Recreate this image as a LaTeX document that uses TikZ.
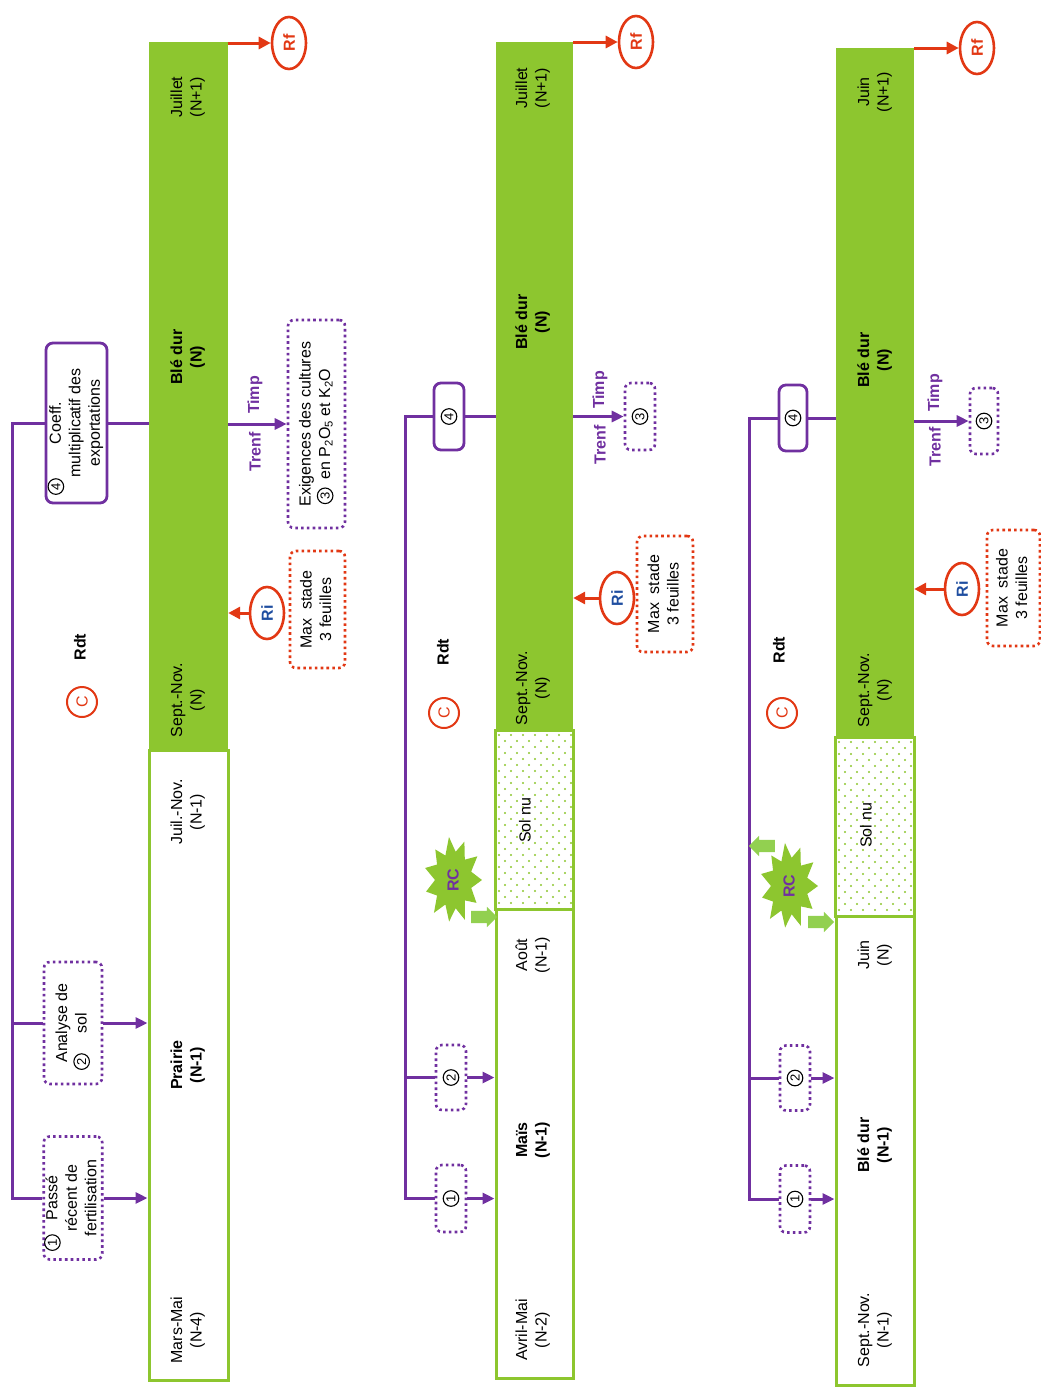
\documentclass[tikz,border=0pt]{standalone}
\usepackage{fontspec}
\setmainfont{Liberation Sans}
\usetikzlibrary{shapes.geometric,shapes.arrows,arrows.meta}
\definecolor{gbar}{RGB}{141,198,47}
\definecolor{garrow}{RGB}{146,208,80}
\definecolor{purp}{RGB}{112,48,160}
\definecolor{redo}{RGB}{226,56,20}
\definecolor{blueri}{RGB}{31,78,160}
\newcommand\rt[1]{\rotatebox{90}{\begin{tabular}{@{}c@{}}#1\end{tabular}}}
\newcommand\cn[1]{\tikz[baseline={(0pt,-5pt)},x=1pt,y=1pt]{\draw[solid,draw=black,fill=none,line width=1.1pt] (0,0) circle[radius=7.8pt]; \pgftext{\color{black}\fontsize{13}{13}\selectfont #1}}}
\begin{document}
\begin{tikzpicture}[x=1pt,y=-1pt,
  every node/.style={font=\fontsize{16}{19.5}\selectfont, inner sep=0pt},
  blbl/.style={font=\fontsize{16}{19.5}\selectfont\bfseries},
  greenbar/.style={rectangle, fill=gbar, draw=none},
  whitebox/.style={rectangle, draw=gbar, line width=3pt},
  ell/.style={ellipse, draw=redo, line width=2.6pt, fill=white, minimum width=34, minimum height=52, font=\fontsize{16}{19.5}\selectfont\bfseries},
  pline/.style={draw=purp, line width=3pt},
  parrow/.style={pline, -{Triangle[length=12pt,width=11pt]}},
  rarrow/.style={draw=redo, line width=3pt, -{Triangle[length=12pt,width=12pt]}},
  dotbox/.style={rectangle, rounded corners=6pt, line width=2.6pt, dash pattern=on 2.6pt off 3.2pt, fill=white},
  pdot/.style={dotbox, draw=purp},
  rdot/.style={dotbox, draw=redo},
  psolid/.style={rectangle, rounded corners=7pt, draw=purp, line width=2.8pt, fill=white},
  ccirc/.style={circle, draw=redo, line width=2pt, minimum size=30, text=redo},
  gblock/.style={single arrow, fill=garrow, draw=none, minimum height=26, inner xsep=0pt, inner ysep=6pt, single arrow head extend=4pt},
  tlab/.style={font=\fontsize{16}{19.5}\selectfont\bfseries, text=purp}
]
\useasboundingbox (0,0) rectangle (1041,1393);

% ================= Panel 1 =================
\node[greenbar, minimum width=79, minimum height=708] (b1) at (188.5,396) {};
\node[whitebox, minimum width=79, minimum height=630] (w1) at (188.5,1065) {};

\node (t1a) at (188,97) {\rt{Juillet\\(N+1)}};
\node[blbl] (t1b) at (188,357) {\rt{Blé dur\\(N)}};
\node (t1c) at (188,700) {\rt{Sept.-Nov.\\(N)}};
\node (t1d) at (188,812) {\rt{Juil.-Nov.\\(N-1)}};
\node[blbl] (t1e) at (188,1065) {\rt{Prairie\\(N-1)}};
\node (t1f) at (188,1330) {\rt{Mars-Mai\\(N-4)}};

\node[ell] (rf1) at (289,43) {\rotatebox{90}{\textcolor{redo}{Rf}}};
\node[ell] (ri1) at (267,613) {\rotatebox{90}{\textcolor{blueri}{Ri}}};
\draw[rarrow] (rf1.west -| b1.east) -- (rf1.west);
\draw[rarrow] (ri1.west) -- (ri1.west -| b1.east);

\node[rdot, minimum width=55, minimum height=117] (mx1) at (317.5,609.5) {\rt{Max\ \ stade\\3 feuilles}};
\node[pdot, minimum width=57, minimum height=208] (ex1) at (316.5,424) {\rt{Exigences des cultures\\\llap{\cn{3}\hspace{8pt}}en P\textsubscript{2}O\textsubscript{5} et K\textsubscript{2}O}};
\draw[parrow] (ex1.west -| b1.east) -- (ex1.west);
\node[tlab] (tp1) at (255,395) {\rotatebox{90}{Timp}};
\node[tlab] (te1) at (255,452) {\rotatebox{90}{Trenf}};

\node[psolid, minimum width=61, minimum height=160] (co1) at (76.5,423) {\rt{\llap{\cn{4}\hspace{34pt}}Coeff.\\multiplicatif des\\exportations}};
\node[pdot, minimum width=58, minimum height=122] (an1) at (73,1023) {\rt{Analyse de\\\llap{\cn{2}\hspace{20pt}}sol}};
\node[pdot, minimum width=58, minimum height=123] (pa1) at (73,1198) {\rt{\llap{\cn{1}\hspace{14pt}}Passé\\récent de\\fertilisation}};
\coordinate (k1a) at (12,423);
\coordinate (k1b) at (12,1198);
\draw[pline] (b1.west |- co1.east) -- (co1.east);
\draw[pline] (co1.west) -- (k1a) -- (k1b) -- (pa1.west);
\draw[pline] (an1.west -| k1a) -- (an1.west);
\draw[parrow] (an1.east) -- (an1.east -| w1.west);
\draw[parrow] (pa1.east) -- (pa1.east -| w1.west);

\node[blbl] (rdt1) at (80,647) {\rotatebox{90}{Rdt}};
\node[ccirc] (c1) at (82,702) {\rotatebox{90}{C}};

% ================= Panel 2 =================
\node[greenbar, minimum width=77, minimum height=689] (b2) at (534.5,386.5) {};
\node[rectangle, minimum width=77, minimum height=178] (s2) at (534.5,820) {};
\begin{scope}
\clip (s2.south west) rectangle (s2.north east);
\foreach \r in {0,...,30}{\foreach \c in {0,...,7}{
  \fill[gbar] ({499+\c*12+mod(\r,2)*6},{735+\r*6}) circle (1.1);}}
\end{scope}
\draw[gbar, line width=3pt] (s2.south west) rectangle (s2.north east);
\node[whitebox, minimum width=77, minimum height=469] (w2) at (534.5,1143.5) {};

\node (t2a) at (533,88) {\rt{Juillet\\(N+1)}};
\node[blbl] (t2b) at (533,322) {\rt{Blé dur\\(N)}};
\node (t2c) at (533,688) {\rt{Sept.-Nov.\\(N)}};
\node (t2d) at (525,820) {\rotatebox{90}{Sol nu}};
\node (t2e) at (533,955) {\rt{Août\\(N-1)}};
\node[blbl] (t2f) at (533,1140) {\rt{Maïs\\(N-1)}};
\node (t2g) at (533,1330) {\rt{Avril-Mai\\(N-2)}};

\node[ell] (rf2) at (636,42) {\rotatebox{90}{\textcolor{redo}{Rf}}};
\node[ell] (ri2) at (617,598) {\rotatebox{90}{\textcolor{blueri}{Ri}}};
\draw[rarrow] (rf2.west -| b2.east) -- (rf2.west);
\draw[rarrow] (ri2.west) -- (ri2.west -| b2.east);
\node[rdot, minimum width=56, minimum height=116] (mx2) at (665,594) {\rt{Max\ \ stade\\3 feuilles}};
\node[pdot, minimum width=30, minimum height=67] (e2) at (640,416.5) {\rotatebox{90}{\cn{3}}};
\draw[parrow] (e2.west -| b2.east) -- (e2.west);
\node[tlab] (tp2) at (600,390) {\rotatebox{90}{Timp}};
\node[tlab] (te2) at (600,445) {\rotatebox{90}{Trenf}};

\node[psolid, minimum width=30, minimum height=67] (co2) at (449,416.5) {\rotatebox{90}{\cn{4}}};
\node[pdot, minimum width=30, minimum height=65] (an2) at (451,1077.5) {\rotatebox{90}{\cn{2}}};
\node[pdot, minimum width=30, minimum height=67] (pa2) at (451,1198.5) {\rotatebox{90}{\cn{1}}};
\coordinate (k2a) at (405,416.5);
\coordinate (k2b) at (405,1198.5);
\draw[pline] (b2.west |- co2.east) -- (co2.east);
\draw[pline] (co2.west) -- (k2a) -- (k2b) -- (pa2.west);
\draw[pline] (an2.west -| k2a) -- (an2.west);
\draw[parrow] (an2.east) -- (an2.east -| w2.west);
\draw[parrow] (pa2.east) -- (pa2.east -| w2.west);

\node[blbl] (rdt2) at (443,652) {\rotatebox{90}{Rdt}};
\node[ccirc] (c2) at (444,713) {\rotatebox{90}{C}};

\begin{scope}[shift={(453,880)}, yscale=1.5]
\fill[gbar] (0:29) -- (16:19) -- (33:28) -- (49:18) -- (66:29) -- (82:19) -- (98:28) -- (115:18) -- (131:29) -- (147:19) -- (164:28) -- (180:18) -- (196:29) -- (213:19) -- (229:27) -- (245:18) -- (262:29) -- (278:19) -- (294:28) -- (311:18) -- (327:29) -- (343:19) -- cycle;
\end{scope}
\node[tlab] (rc2) at (453,880) {\rotatebox{90}{RC}};
\node[gblock] (ga2) at (481,917) {};

% ================= Panel 3 =================
\node[greenbar, minimum width=78, minimum height=690] (b3) at (875,393) {};
\node[rectangle, minimum width=78, minimum height=178] (s3) at (875,827) {};
\begin{scope}
\clip (s3.south west) rectangle (s3.north east);
\foreach \r in {0,...,30}{\foreach \c in {0,...,7}{
  \fill[gbar] ({839+\c*12+mod(\r,2)*6},{742+\r*6}) circle (1.1);}}
\end{scope}
\draw[gbar, line width=3pt] (s3.south west) rectangle (s3.north east);
\node[whitebox, minimum width=78, minimum height=469] (w3) at (875,1150.5) {};

\node (t3a) at (875,92) {\rt{Juin\\(N+1)}};
\node[blbl] (t3b) at (875,360) {\rt{Blé dur\\(N)}};
\node (t3c) at (875,690) {\rt{Sept.-Nov.\\(N)}};
\node (t3d) at (866,825) {\rotatebox{90}{Sol nu}};
\node (t3e) at (875,955) {\rt{Juin\\(N)}};
\node[blbl] (t3f) at (875,1145) {\rt{Blé dur\\(N-1)}};
\node (t3g) at (875,1330) {\rt{Sept.-Nov.\\(N-1)}};

\node[ell] (rf3) at (977,48) {\rotatebox{90}{\textcolor{redo}{Rf}}};
\node[ell] (ri3) at (962,589) {\rotatebox{90}{\textcolor{blueri}{Ri}}};
\draw[rarrow] (rf3.west -| b3.east) -- (rf3.west);
\draw[rarrow] (ri3.west) -- (ri3.west -| b3.east);
\node[rdot, minimum width=53, minimum height=116] (mx3) at (1013.5,588) {\rt{Max\ \ stade\\3 feuilles}};
\node[pdot, minimum width=28, minimum height=66] (e3) at (984,421) {\rotatebox{90}{\cn{3}}};
\draw[parrow] (e3.west -| b3.east) -- (e3.west);
\node[tlab] (tp3) at (935,393) {\rotatebox{90}{Timp}};
\node[tlab] (te3) at (935,447) {\rotatebox{90}{Trenf}};

\node[psolid, minimum width=28, minimum height=66] (co3) at (793,418) {\rotatebox{90}{\cn{4}}};
\node[pdot, minimum width=30, minimum height=65] (an3) at (795,1078) {\rotatebox{90}{\cn{2}}};
\node[pdot, minimum width=30, minimum height=67] (pa3) at (795,1199) {\rotatebox{90}{\cn{1}}};
\coordinate (k3a) at (749,418);
\coordinate (k3b) at (749,1199);
\draw[pline] (b3.west |- co3.east) -- (co3.east);
\draw[pline] (co3.west) -- (k3a) -- (k3b) -- (pa3.west);
\draw[pline] (an3.west -| k3a) -- (an3.west);
\draw[parrow] (an3.east) -- (an3.east -| w3.west);
\draw[parrow] (pa3.east) -- (pa3.east -| w3.west);

\node[blbl] (rdt3) at (779,650) {\rotatebox{90}{Rdt}};
\node[ccirc] (c3) at (782,713) {\rotatebox{90}{C}};

\begin{scope}[shift={(789,886)}, yscale=1.5]
\fill[gbar] (0:29) -- (16:19) -- (33:28) -- (49:18) -- (66:29) -- (82:19) -- (98:28) -- (115:18) -- (131:29) -- (147:19) -- (164:28) -- (180:18) -- (196:29) -- (213:19) -- (229:27) -- (245:18) -- (262:29) -- (278:19) -- (294:28) -- (311:18) -- (327:29) -- (343:19) -- cycle;
\end{scope}
\node[tlab] (rc3) at (789,886) {\rotatebox{90}{RC}};
\node[gblock] (ga3) at (818,922) {};
\node[gblock, shape border rotate=180] (gb3) at (765,846) {};
\end{tikzpicture}
\end{document}
